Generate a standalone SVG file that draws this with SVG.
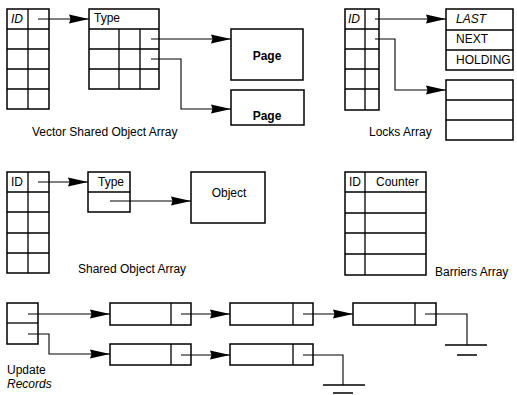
<svg xmlns="http://www.w3.org/2000/svg" width="517" height="395" viewBox="0 0 517 395">
<defs>
<marker id="ah" markerUnits="userSpaceOnUse" markerWidth="22" markerHeight="11" refX="20" refY="5" orient="auto" overflow="visible">
<path d="M0,0.5 L20,5 L0,9.5 L1.5,5 Z" fill="#000"/>
</marker>
<style>
.b{fill:#fff;stroke:#000;stroke-width:1.5}
.l{fill:none;stroke:#000;stroke-width:1.3}
.c{fill:none;stroke:#000;stroke-width:1.1}
.t{font-family:"Liberation Sans",Arial,sans-serif;font-size:12px;fill:#000}
.i{font-style:italic}
.m{text-anchor:middle}
</style>
</defs>
<rect width="517" height="395" fill="#fff"/>

<g id="vsoa-id">
<rect class="b" x="7" y="9" width="42" height="100"/>
<path class="l" d="M28,9V109M7,29H49M7,49H49M7,69H49M7,89H49"/>
<text class="t i" x="11" y="23">ID</text>
</g>
<g id="vsoa-type">
<rect class="b" x="89" y="9" width="70" height="80"/>
<path class="l" d="M89,29H159M89,49H159M89,69H159M119,29V89M140,29V89"/>
<text class="t" x="94" y="22">Type</text>
</g>
<g id="page1">
<rect class="b" x="231" y="29" width="72" height="51"/>
<text class="t m" x="267" y="60" font-weight="bold" font-size="11">Page</text>
</g>
<g id="page2">
<rect class="b" x="231" y="90" width="73" height="35"/>
<text class="t m" x="267" y="120" font-weight="bold" font-size="11">Page</text>
</g>
<text class="t" x="32" y="136">Vector Shared Object Array</text>

<g id="locks-id">
<rect class="b" x="345" y="9" width="34" height="101"/>
<path class="l" d="M365,9V110M345,29H379M345,49H379M345,69H379M345,89H379"/>
<text class="t i" x="348" y="23">ID</text>
</g>
<g id="lock-rec1">
<rect class="b" x="446" y="9" width="67" height="61"/>
<path class="l" d="M446,30H513M446,50H513"/>
<text class="t i" x="456" y="23">LAST</text>
<text class="t" x="456" y="43">NEXT</text>
<text class="t" x="456" y="64">HOLDING</text>
</g>
<g id="lock-rec2">
<rect class="b" x="446" y="80" width="67" height="60"/>
<path class="l" d="M446,100H513M446,120H513"/>
</g>
<text class="t" x="369" y="136">Locks Array</text>

<g id="soa-id">
<rect class="b" x="7" y="172" width="42" height="101"/>
<path class="l" d="M28,172V273M7,192H49M7,212H49M7,233H49M7,253H49"/>
<text class="t" x="11" y="186">ID</text>
</g>
<g id="soa-type">
<rect class="b" x="88" y="172" width="42" height="40"/>
<path class="l" d="M88,192H130"/>
<text class="t" x="98" y="186">Type</text>
</g>
<g id="object">
<rect class="b" x="191" y="172" width="74" height="51"/>
<text class="t m" x="229" y="197">Object</text>
</g>
<text class="t" x="78" y="273">Shared Object Array</text>

<g id="barriers">
<rect class="b" x="345" y="172" width="81" height="103"/>
<path class="l" d="M365,172V275M345,192H426M345,213H426M345,233H426M345,254H426"/>
<text class="t" x="349" y="186">ID</text>
<text class="t" x="376" y="186">Counter</text>
</g>
<text class="t" x="435" y="276">Barriers Array</text>

<g id="update">
<rect class="b" x="7" y="303" width="31" height="41"/>
<path class="l" d="M7,323H38"/>
<text class="t" x="7" y="374">Update</text>
<text class="t i" x="7" y="388">Records</text>
</g>
<g id="rec-a1"><rect class="b" x="110" y="303" width="81" height="22"/><path class="l" d="M171,303V325"/></g>
<g id="rec-a2"><rect class="b" x="230" y="303" width="83" height="22"/><path class="l" d="M293,303V325"/></g>
<g id="rec-a3"><rect class="b" x="353" y="303" width="83" height="22"/><path class="l" d="M415,303V325"/></g>
<g id="rec-b1"><rect class="b" x="110" y="344" width="81" height="21"/><path class="l" d="M171,344V365"/></g>
<g id="rec-b2"><rect class="b" x="230" y="344" width="83" height="21"/><path class="l" d="M293,344V365"/></g>

<g id="connectors">
<path class="c" d="M38,19H89" marker-end="url(#ah)"/>
<path class="c" d="M151,39H231" marker-end="url(#ah)"/>
<path class="c" d="M151,59H181V109H231" marker-end="url(#ah)"/>
<path class="c" d="M375,19H446" marker-end="url(#ah)"/>
<path class="c" d="M375,39H395V90H446" marker-end="url(#ah)"/>
<path class="c" d="M38,182H88" marker-end="url(#ah)"/>
<path class="c" d="M110,201H191" marker-end="url(#ah)"/>
<path class="c" d="M28,314H110" marker-end="url(#ah)"/>
<path class="c" d="M28,334H49V354H110" marker-end="url(#ah)"/>
<path class="c" d="M181,314H230" marker-end="url(#ah)"/>
<path class="c" d="M303,314H353" marker-end="url(#ah)"/>
<path class="c" d="M181,355H230" marker-end="url(#ah)"/>
<path class="c" d="M425,314H467V345"/>
<path class="l" d="M445,345H487M457,355H477"/>
<path class="c" d="M303,355H343V385"/>
<path class="l" d="M323,385H365M333,393H353"/>
</g>
</svg>
